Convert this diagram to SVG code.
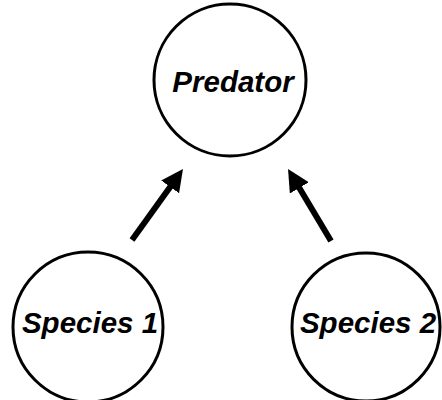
<svg xmlns="http://www.w3.org/2000/svg" width="442" height="400" viewBox="0 0 442 400">
<defs>
<style>
.node circle{fill:#fff;stroke:#000;stroke-width:3}
.node text{font-family:"Liberation Sans",Arial,sans-serif;font-weight:bold;font-style:italic;font-size:29.5px;fill:#000;text-anchor:middle}
.edge{stroke:#000;stroke-width:6;fill:none;marker-end:url(#ah)}
</style>
<marker id="ah" markerUnits="userSpaceOnUse" viewBox="0 0 22 22" markerWidth="22" markerHeight="22" refX="8" refY="11" orient="auto">
<path d="M0,0 L22,11 L0,22 z" fill="#000"/>
</marker>
</defs>
<rect width="442" height="400" fill="#fff"/>
<g id="connectors">
<line class="edge" x1="132" y1="240" x2="174.8" y2="180.4"/>
<line class="edge" x1="331" y1="241" x2="295.2" y2="181"/>
</g>
<g id="predator" class="node">
<circle cx="230" cy="80" r="76"/>
<text x="233" y="92">Predator</text>
</g>
<g id="species1" class="node">
<circle cx="88" cy="327" r="75"/>
<text x="90" y="333">Species 1</text>
</g>
<g id="species2" class="node">
<circle cx="366" cy="327" r="74"/>
<text x="368" y="333">Species 2</text>
</g>
</svg>
